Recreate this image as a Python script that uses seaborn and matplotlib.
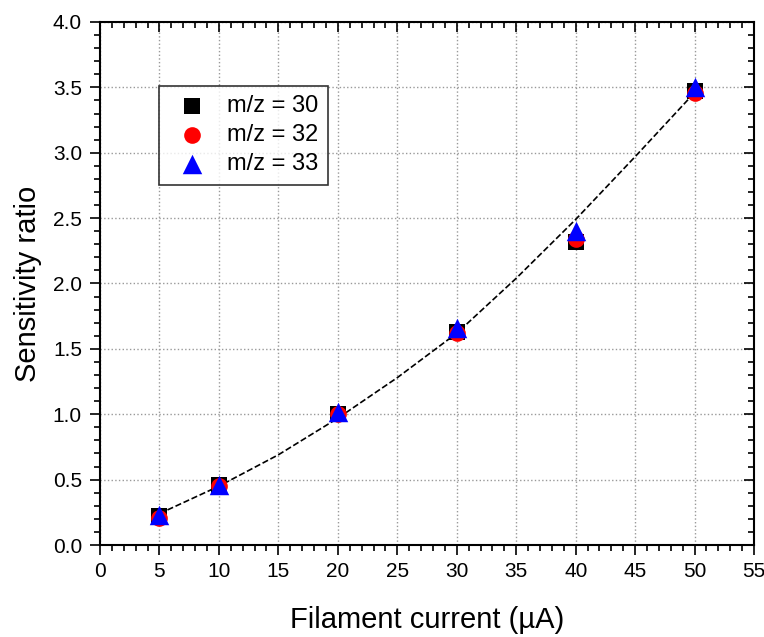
import numpy as np
import pandas as pd
import matplotlib
matplotlib.use("Agg")
import matplotlib.pyplot as plt
import seaborn as sns
from matplotlib.ticker import MultipleLocator

# data
current = [5, 10, 20, 30, 40, 50]
ratio_30 = [0.22, 0.46, 1.00, 1.63, 2.32, 3.47]
ratio_32 = [0.21, 0.45, 1.00, 1.62, 2.34, 3.46]
ratio_33 = [0.23, 0.46, 1.02, 1.66, 2.40, 3.50]

# dashed fit curve, read at 5 uA steps
fit_x = [5, 10, 15, 20, 25, 30, 35, 40, 45, 50]
fit_y = [0.24, 0.45, 0.69, 0.97, 1.28, 1.62, 2.04, 2.49, 2.97, 3.46]

sns.set_style("white")
plt.rcParams['font.family'] = ['Liberation Sans', 'DejaVu Sans']
plt.rcParams.update({"text.color": "black", "axes.labelcolor": "black",
                     "xtick.color": "black", "ytick.color": "black"})

fig = plt.figure(figsize=(7.64, 6.37), dpi=100)
ax = fig.add_axes([0.1309, 0.1444, 0.8561, 0.8211])

fit_df = pd.DataFrame({"x": fit_x, "y": fit_y})
sns.lineplot(data=fit_df, x="x", y="y", ax=ax, color="black", linestyle="--",
             linewidth=1.2, zorder=2)

series = [
    ("m/z = 30", ratio_30, "s", "black", 11),
    ("m/z = 32", ratio_32, "o", "red", 12),
    ("m/z = 33", ratio_33, "^", "blue", 14),
]
for label, vals, mk, col, ms in series:
    df = pd.DataFrame({"x": current, "y": vals})
    sns.scatterplot(data=df, x="x", y="y", ax=ax, marker=mk, color=col,
                    s=ms ** 2, linewidth=0, label=label, zorder=3)

ax.set_xlim(0, 55)
ax.set_ylim(0, 4.0)
ax.xaxis.set_major_locator(MultipleLocator(5))
ax.xaxis.set_minor_locator(MultipleLocator(1))
ax.yaxis.set_major_locator(MultipleLocator(0.5))
ax.yaxis.set_minor_locator(MultipleLocator(0.1))
ax.yaxis.set_major_formatter(matplotlib.ticker.FormatStrFormatter('%.1f'))

ax.grid(True, which="major", linestyle=":", color="#999999", linewidth=1.0)
for sp in ax.spines.values():
    sp.set_linewidth(1.5)
    sp.set_color("black")

ax.tick_params(axis="both", which="major", length=7, width=1.2, labelsize=15)
ax.tick_params(axis="both", which="minor", length=4, width=1.2)
ax.tick_params(axis="both", which="both", bottom=True, left=True,
               top=True, right=True, direction="out")
ax.tick_params(axis="x", which="major", pad=5)
ax.tick_params(axis="y", which="major", pad=6)
ax.tick_params(axis="x", which="both", labeltop=False)
ax.tick_params(axis="y", which="both", labelright=False)
# top/right ticks point inward
for t in ax.xaxis.get_major_ticks() + ax.xaxis.get_minor_ticks():
    t.tick2line.set_marker(matplotlib.lines.TICKDOWN)
for t in ax.yaxis.get_major_ticks() + ax.yaxis.get_minor_ticks():
    t.tick2line.set_marker(matplotlib.lines.TICKLEFT)

ax.set_xlabel("Filament current (\u00b5A)", fontsize=21, labelpad=18)
ax.set_ylabel("Sensitivity ratio", fontsize=21, labelpad=8)

leg = ax.legend(loc="upper left", bbox_to_anchor=(0.090, 0.878), fontsize=17,
                frameon=True, fancybox=False, edgecolor="black",
                borderpad=0.4, handletextpad=0.5, labelspacing=0.3,
                borderaxespad=0)
leg.get_frame().set_linewidth(1.2)

fig.savefig("out.png", dpi=100)
